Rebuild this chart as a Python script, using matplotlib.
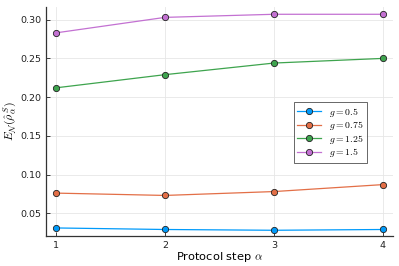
import matplotlib.pyplot as plt

steps = [1, 2, 3, 4]
g_labels = [r"$g = 0.5$", r"$g = 0.75$", r"$g = 1.25$", r"$g = 1.5$"]
ent_05 = [0.031, 0.029, 0.028, 0.029]
ent_075 = [0.076, 0.073, 0.078, 0.087]
ent_125 = [0.212, 0.229, 0.244, 0.250]
ent_15 = [0.283, 0.303, 0.307, 0.307]
colors = ["#009AFA", "#E36F47", "#3EA44E", "#C371D2"]

plt.rcParams["mathtext.fontset"] = "cm"

fig = plt.figure(figsize=(3.99, 2.66), dpi=100)
ax = fig.add_axes([46 / 399, 30 / 266, 347 / 399, 229 / 266])

for vals, lab, c in zip([ent_05, ent_075, ent_125, ent_15], g_labels, colors):
    ax.plot(steps, vals, color=c, lw=0.9, marker="o", ms=4.5,
            mec="#222222", mew=0.6, label=lab)

ax.set_xlim(0.908, 4.092)
ax.set_ylim(0.0206, 0.3164)
ax.set_xticks(steps)
ax.set_yticks([0.05, 0.10, 0.15, 0.20, 0.25, 0.30])
ax.set_yticklabels(["0.05", "0.10", "0.15", "0.20", "0.25", "0.30"])
ax.tick_params(direction="in", labelsize=6.8, length=3, width=0.6, colors="#222222")
ax.grid(True, color="#e6e6e6", lw=0.6)
ax.set_axisbelow(True)
for s in ["top", "right"]:
    ax.spines[s].set_visible(False)
for s in ["left", "bottom"]:
    ax.spines[s].set_color("#333333")
    ax.spines[s].set_linewidth(0.9)

ax.set_xlabel(r"Protocol step $\alpha$", fontsize=8.2, labelpad=0)
ax.set_ylabel(r"$E_{\mathcal{N}}(\hat{\rho}^{\,S}_{\alpha})$", fontsize=8.5, labelpad=1)

leg = ax.legend(loc="upper left", bbox_to_anchor=(0.70, 0.605), fontsize=7,
                frameon=True, fancybox=False, edgecolor="#222222",
                handlelength=2.5, borderpad=0.35, labelspacing=0.05)
leg.get_frame().set_linewidth(0.6)

fig.savefig("out.png", dpi=100)
